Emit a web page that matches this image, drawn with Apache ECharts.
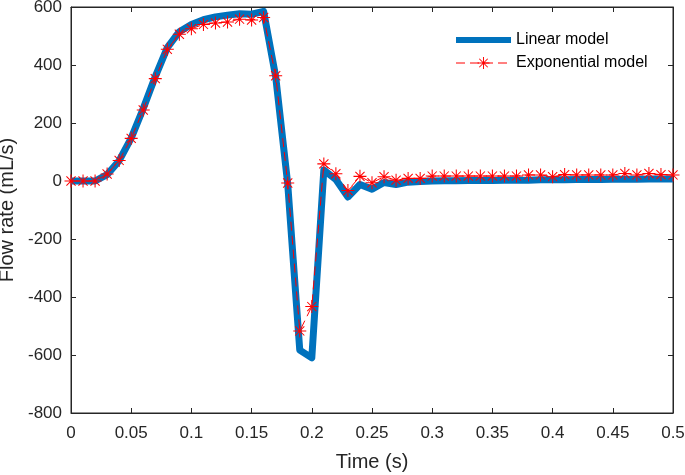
<!DOCTYPE html>
<html>
<head>
<meta charset="utf-8">
<script src="https://cdn.jsdelivr.net/npm/echarts@6/dist/echarts.min.js"></script>
<style>
	html, body { margin: 0; padding: 0; background: #fff; }
	#main { width: 685px; height: 475px; }
</style>
</head>
<body>
<div id="main"></div>
<script>
// 时间点 (s)
var times = [0, 0.01, 0.02, 0.03, 0.04, 0.05, 0.06, 0.07, 0.08, 0.09,
	0.10, 0.11, 0.12, 0.13, 0.14, 0.15, 0.16, 0.17, 0.18, 0.19,
	0.20, 0.21, 0.22, 0.23, 0.24, 0.25, 0.26, 0.27, 0.28, 0.29,
	0.30, 0.31, 0.32, 0.33, 0.34, 0.35, 0.36, 0.37, 0.38, 0.39,
	0.40, 0.41, 0.42, 0.43, 0.44, 0.45, 0.46, 0.47, 0.48, 0.49, 0.50];

// Linear model (蓝色粗线)
var linearFlow = [0, 0, 0, 22, 70, 148, 250, 360, 460, 515,
	540, 556, 566, 572, 577, 575, 585, 360, -10, -583,
	-610, 38, 5, -55, -12, -28, -5, -12, -4, -2,
	0, 1, 1, 2, 2, 2, 3, 3, 3, 4,
	4, 4, 5, 5, 5, 6, 6, 6, 7, 7, 7];

// Exponential model (红色虚线 + 星号)
var expFlow = [0, 0, 0, 24, 71, 147, 245, 353, 454, 506,
	525, 540, 545, 548, 558, 555, 564, 363, -7, -517,
	-433, 59, 25, -33, 16, -6, 15, 3, 9, 9,
	17, 17, 17, 17, 17, 17, 17, 17, 21, 21,
	15, 22, 21, 21, 21, 21, 26, 21, 26, 22, 21];

// 星号形状
var starPath = 'path://M9.2 0L10.8 0L10.8 20L9.2 20Z M0 9.2L20 9.2L20 10.8L0 10.8Z ' +
	'M2.4 3.5L3.5 2.4L17.6 16.5L16.5 17.6Z M16.5 2.4L17.6 3.5L3.5 17.6L2.4 16.5Z';

function pairs(xs, ys) {
	var out = [];
	for (var i = 0; i < xs.length; ++i) {
		out.push([xs[i], ys[i]]);
	}
	return out;
}

var axisColor = '#262626';
var font = 'Liberation Sans, Arial, sans-serif';

var myChart = echarts.init(document.getElementById('main'));

var option = {
	animation: false,
	grid: {
		left: 71,
		right: 12,
		top: 7,
		bottom: 62,
		outerBoundsMode: 'none',
		containLabel: false,
		show: true,
		borderColor: axisColor,
		borderWidth: 1
	},
	legend: {
		left: 448,
		top: 27,
		orient: 'vertical',
		itemWidth: 55,
		itemHeight: 15,
		itemGap: 7,
		textStyle: { fontFamily: font, fontSize: 16, color: '#000' },
		data: [{
			name: 'Linear model',
			itemStyle: { opacity: 0 },
			lineStyle: { width: 6, color: '#0072BD' }
		}, {
			name: 'Exponential model',
			itemStyle: { color: '#FF0000' },
			lineStyle: { width: 1, color: '#FF0000', type: [9, 5] }
		}]
	},
	xAxis: [{
		type: 'value',
		min: 0,
		max: 0.5,
		interval: 0.05,
		name: 'Time (s)',
		nameLocation: 'middle',
		nameGap: 39,
		nameTextStyle: { fontFamily: font, fontSize: 20, color: axisColor },
		axisLine: { onZero: false, lineStyle: { color: axisColor } },
		axisTick: { inside: true, length: 5, lineStyle: { color: axisColor } },
		axisLabel: { fontFamily: font, fontSize: 17, color: axisColor, margin: 12 },
		splitLine: { show: false }
	}, {
		type: 'value',
		position: 'top',
		min: 0,
		max: 0.5,
		interval: 0.05,
		axisLine: { show: true, onZero: false, lineStyle: { color: axisColor } },
		axisTick: { inside: true, length: 5, lineStyle: { color: axisColor } },
		axisLabel: { show: false },
		splitLine: { show: false }
	}],
	yAxis: [{
		type: 'value',
		min: -800,
		max: 600,
		interval: 200,
		name: 'Flow rate (mL/s)',
		nameLocation: 'middle',
		nameGap: 47,
		nameTextStyle: { fontFamily: font, fontSize: 20, color: axisColor },
		axisLine: { show: true, onZero: false, lineStyle: { color: axisColor } },
		axisTick: { inside: true, length: 5, lineStyle: { color: axisColor } },
		axisLabel: { fontFamily: font, fontSize: 17, color: axisColor, margin: 9 },
		splitLine: { show: false }
	}, {
		type: 'value',
		position: 'right',
		min: -800,
		max: 600,
		interval: 200,
		axisLine: { show: true, onZero: false, lineStyle: { color: axisColor } },
		axisTick: { inside: true, length: 5, lineStyle: { color: axisColor } },
		axisLabel: { show: false },
		splitLine: { show: false }
	}],
	series: [{
		name: 'Linear model',
		type: 'line',
		data: pairs(times, linearFlow),
		symbol: 'none',
		color: '#0072BD',
		lineStyle: { color: '#0072BD', width: 7, join: 'round' },
		z: 2
	}, {
		name: 'Exponential model',
		type: 'line',
		data: pairs(times, expFlow),
		symbol: starPath,
		symbolSize: 13,
		color: '#FF0000',
		itemStyle: { color: '#FF0000' },
		lineStyle: { color: '#FF0000', width: 1, type: [9, 5] },
		z: 3
	}]
};

myChart.setOption(option);
</script>
</body>
</html>
